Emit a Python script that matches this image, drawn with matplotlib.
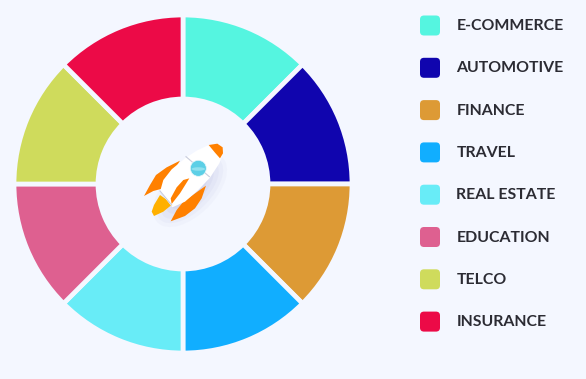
import matplotlib
matplotlib.use("Agg")
import matplotlib.pyplot as plt
from matplotlib.patches import FancyBboxPatch, Polygon, Ellipse

categories = ["E-COMMERCE", "AUTOMOTIVE", "FINANCE", "TRAVEL",
              "REAL ESTATE", "EDUCATION", "TELCO", "INSURANCE"]
values = [12.5, 12.5, 12.5, 12.5, 12.5, 12.5, 12.5, 12.5]
colors = ["#55F5E0", "#1005AE", "#DD9A35", "#11AEFF",
          "#68ECF7", "#DE6090", "#CFDB5C", "#EC0A47"]

BG = "#F4F7FF"
plt.rcParams["font.family"] = ["Lato", "DejaVu Sans"]

fig = plt.figure(figsize=(5.86, 3.79), dpi=100, facecolor=BG)
ax = fig.add_axes([0, 0, 1, 1])

# donut, axis is inverted so counterclock gives the clockwise look
ax.pie(values, colors=colors, center=(183, 184), radius=169, startangle=-90,
       counterclock=True, frame=True,
       wedgeprops=dict(width=84, edgecolor=BG, linewidth=3.4))
ax.set_xlim(0, 586)
ax.set_ylim(379, 0)
ax.set_aspect("auto")
ax.axis("off")

# legend
for i, (name, color) in enumerate(zip(categories, colors)):
    y = 25.5 + i * 42.3
    ax.add_patch(FancyBboxPatch((424, y - 6), 12, 12,
                                boxstyle="round,pad=4,rounding_size=4",
                                fc=color, ec="none"))
    ax.text(456.5, y + 0.5, name, fontsize=11.4, fontweight="bold",
            color="#2B2B33", va="center", ha="left")


def z(pts):
    return [(130 + x / 3, 130 + y / 3) for x, y in pts]


def shape(pts, color, zorder):
    ax.add_patch(Polygon(z(pts), closed=True, fc=color, ec="none", zorder=zorder))


body = [(238, 44), (262, 41), (278, 52), (279, 70), (268, 100), (240, 143), (205, 180),
        (165, 215), (127, 232), (90, 185), (100, 150), (125, 118), (165, 85), (200, 62)]

# soft shadow, wide halo plus a darker patch to the lower right
for w, h, a in [(92, 50, 0.04), (84, 42, 0.05), (74, 34, 0.06), (62, 26, 0.07), (50, 18, 0.08)]:
    ax.add_patch(Ellipse((190, 190), w, h, angle=-45, fc="#8A8FC8", ec="none",
                         alpha=a, zorder=3))

# fins and flame
shape([(150, 92), (110, 112), (78, 135), (60, 165), (42, 198), (70, 183), (100, 175)], "#FF8000", 4)
shape([(228, 167), (215, 205), (195, 235), (165, 258), (122, 274), (140, 240), (160, 215)], "#FF8000", 4)
shape([(90, 195), (72, 225), (65, 245), (72, 258), (100, 245), (128, 222)], "#FFB000", 4)

# body
shape(body, "#FFFFFF", 5)
# nose
shape([(236, 45), (262, 41), (278, 52), (279, 70), (270, 85), (255, 68)], "#FF8000", 6)
# centre fin
shape([(178, 145), (160, 150), (140, 172), (122, 205), (125, 222), (150, 190)], "#FF8000", 6)
# band details
ax.plot(*zip(*z([(168, 80), (238, 140)])), color="#C8CCDC", lw=0.8, zorder=6)
ax.plot(*zip(*z([(90, 183), (125, 225)])), color="#C8CCDC", lw=0.8, zorder=6)
# window
ax.add_patch(Ellipse((198.3, 168.3), 16, 16, fc="#5CCFE6", ec="#E6F6FA", lw=0.5, zorder=7))
ax.add_patch(Ellipse((198.3, 169), 13.5, 3.5, fc="#8FE0EE", ec="none", zorder=8))

fig.savefig("out.png", dpi=100, facecolor=BG)
